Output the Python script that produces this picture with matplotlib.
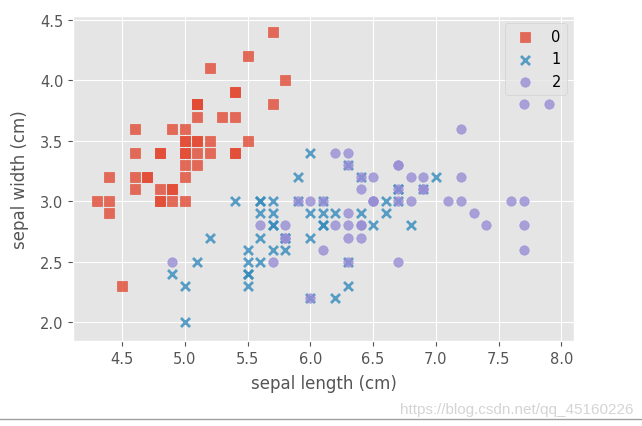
import numpy as np
import matplotlib
matplotlib.use('Agg')
import matplotlib.pyplot as plt
from matplotlib.lines import Line2D

plt.style.use('ggplot')

# iris: sepal length / sepal width for each class
setosa_len = [5.1, 4.9, 4.7, 4.6, 5.0, 5.4, 4.6, 5.0, 4.4, 4.9, 5.4, 4.8, 4.8, 4.3, 5.8, 5.7, 5.4,
              5.1, 5.7, 5.1, 5.4, 5.1, 4.6, 5.1, 4.8, 5.0, 5.0, 5.2, 5.2, 4.7, 4.8, 5.4, 5.2, 5.5,
              4.9, 5.0, 5.5, 4.9, 4.4, 5.1, 5.0, 4.5, 4.4, 5.0, 5.1, 4.8, 5.1, 4.6, 5.3, 5.0]
setosa_wid = [3.5, 3.0, 3.2, 3.1, 3.6, 3.9, 3.4, 3.4, 2.9, 3.1, 3.7, 3.4, 3.0, 3.0, 4.0, 4.4, 3.9,
              3.5, 3.8, 3.8, 3.4, 3.7, 3.6, 3.3, 3.4, 3.0, 3.4, 3.5, 3.4, 3.2, 3.1, 3.4, 4.1, 4.2,
              3.1, 3.2, 3.5, 3.6, 3.0, 3.4, 3.5, 2.3, 3.2, 3.5, 3.8, 3.0, 3.8, 3.2, 3.7, 3.3]
versi_len = [7.0, 6.4, 6.9, 5.5, 6.5, 5.7, 6.3, 4.9, 6.6, 5.2, 5.0, 5.9, 6.0, 6.1, 5.6, 6.7, 5.6,
             5.8, 6.2, 5.6, 5.9, 6.1, 6.3, 6.1, 6.4, 6.6, 6.8, 6.7, 6.0, 5.7, 5.5, 5.5, 5.8, 6.0,
             5.4, 6.0, 6.7, 6.3, 5.6, 5.5, 5.5, 6.1, 5.8, 5.0, 5.6, 5.7, 5.7, 6.2, 5.1, 5.7]
versi_wid = [3.2, 3.2, 3.1, 2.3, 2.8, 2.8, 3.3, 2.4, 2.9, 2.7, 2.0, 3.0, 2.2, 2.9, 2.9, 3.1, 3.0,
             2.7, 2.2, 2.5, 3.2, 2.8, 2.5, 2.8, 2.9, 3.0, 2.8, 3.0, 2.9, 2.6, 2.4, 2.4, 2.7, 2.7,
             3.0, 3.4, 3.1, 2.3, 3.0, 2.5, 2.6, 3.0, 2.6, 2.3, 2.7, 3.0, 2.9, 2.9, 2.5, 2.8]
virg_len = [6.3, 5.8, 7.1, 6.3, 6.5, 7.6, 4.9, 7.3, 6.7, 7.2, 6.5, 6.4, 6.8, 5.7, 5.8, 6.4, 6.5,
            7.7, 7.7, 6.0, 6.9, 5.6, 7.7, 6.3, 6.7, 7.2, 6.2, 6.1, 6.4, 7.2, 7.4, 7.9, 6.4, 6.3,
            6.1, 7.7, 6.3, 6.4, 6.0, 6.9, 6.7, 6.9, 5.8, 6.8, 6.7, 6.7, 6.3, 6.5, 6.2, 5.9]
virg_wid = [3.3, 2.7, 3.0, 2.9, 3.0, 3.0, 2.5, 2.9, 2.5, 3.6, 3.2, 2.7, 3.0, 2.5, 2.8, 3.2, 3.0,
            3.8, 2.6, 2.2, 3.2, 2.8, 2.8, 2.7, 3.3, 3.2, 2.8, 3.0, 2.8, 3.0, 2.8, 3.8, 2.8, 2.8,
            2.6, 3.0, 3.4, 3.1, 3.0, 3.1, 3.1, 3.1, 2.7, 3.2, 3.3, 3.0, 2.5, 3.0, 3.4, 3.0]

classes = [(setosa_len, setosa_wid), (versi_len, versi_wid), (virg_len, virg_wid)]
labels = ['0', '1', '2']
markers = ['s', 'x', 'o']
colors = ['#E24A33', '#348ABD', '#988ED5']

fig = plt.figure(figsize=(6.42, 4.27), dpi=100)
ax = fig.add_axes([0.1137, 0.199, 0.7803, 0.761])

for (xs, ys), lab, m, c in zip(classes, labels, markers, colors):
    if m == 'x':
        ax.scatter(xs, ys, marker=m, c=c, s=42, alpha=0.8, linewidths=2, label=lab)
    else:
        ax.scatter(xs, ys, marker=m, c=c, s=46, alpha=0.8, label=lab)

ax.set_xlim(4.11, 8.1)
ax.set_ylim(1.845, 4.53)
ax.set_xlabel('sepal length (cm)', fontsize=12, labelpad=6)
ax.set_ylabel('sepal width (cm)', fontsize=12, labelpad=7.5)
ax.set_xticks(np.arange(4.5, 8.01, 0.5))
ax.set_yticks(np.arange(2.0, 4.51, 0.5))
ax.tick_params(labelsize=10.5)
ax.legend(loc='upper right', fontsize=10.5)

# bottom rule and watermark from the screenshot
fig.add_artist(Line2D([0, 1], [0.0164, 0.0164], color='#a0a0a0', lw=1))
fig.text(0.986, 0.04, 'https://blog.csdn.net/qq_45160226', ha='right', va='center',
         color='#d4d4d4', fontsize=11, family='Liberation Sans')

plt.savefig('out.png', dpi=100)
